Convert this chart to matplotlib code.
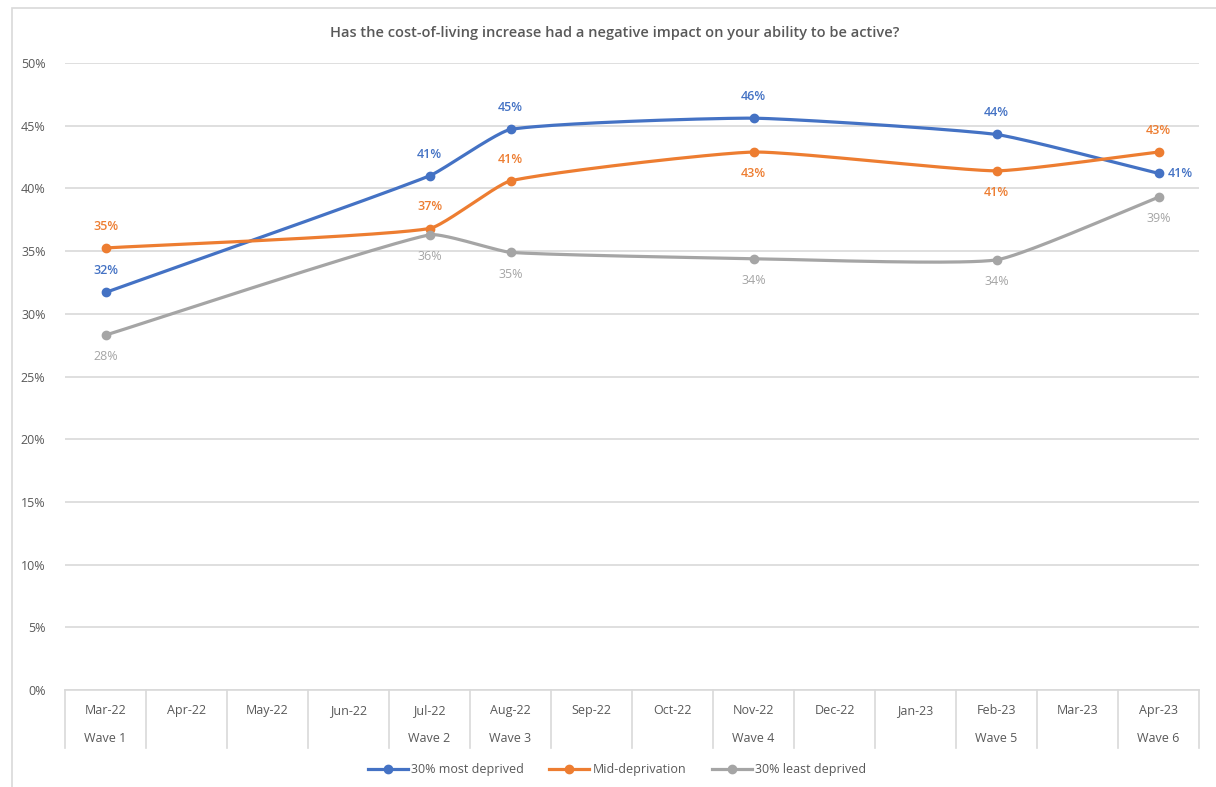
import numpy as np
import matplotlib.pyplot as plt
from matplotlib.lines import Line2D
from matplotlib.patches import Rectangle
import matplotlib.transforms as mtransforms

plt.rcParams['font.family'] = ['Open Sans', 'DejaVu Sans']

months = ['Mar-22', 'Apr-22', 'May-22', 'Jun-22', 'Jul-22', 'Aug-22', 'Sep-22',
          'Oct-22', 'Nov-22', 'Dec-22', 'Jan-23', 'Feb-23', 'Mar-23', 'Apr-23']
waves = ['Wave 1', '', '', '', 'Wave 2', 'Wave 3', '', '', 'Wave 4', '', '', 'Wave 5', '', 'Wave 6']

# survey results (% answering yes); None where no wave ran that month
most_deprived = [31.7, None, None, None, 41.0, 44.7, None, None, 45.6, None, None, 44.3, None, 41.2]
mid_deprivation = [35.25, None, None, None, 36.8, 40.6, None, None, 42.9, None, None, 41.4, None, 42.9]
least_deprived = [28.3, None, None, None, 36.3, 34.9, None, None, 34.4, None, None, 34.3, None, 39.3]

series_names = ['30% most deprived', 'Mid-deprivation', '30% least deprived']
colors = ['#4472C4', '#ED7D31', '#A5A5A5']
label_colors = ['#4472C4', '#ED7D31', '#A5A5A5']
label_pos = [
    ['above', 'above', 'above', 'above', 'above', 'right'],
    ['above', 'above', 'above', 'below', 'below', 'above'],
    ['below', 'below', 'below', 'below', 'below', 'below'],
]

TEXT = '#595959'
GRID = '#D9D9D9'
YSCALE = 12.54 / 81.0  # y units -> x units in screen space


def smooth(xs, ys, k=0.15, n=40):
    pts = np.column_stack([xs, np.asarray(ys) * YSCALE])
    m = len(pts)
    out = []
    for i in range(m - 1):
        p0, p1 = pts[max(i - 1, 0)], pts[i]
        p2, p3 = pts[i + 1], pts[min(i + 2, m - 1)]
        d = np.linalg.norm(p2 - p1)
        t1 = (p2 - p0) / np.linalg.norm(p2 - p0)
        t2 = (p3 - p1) / np.linalg.norm(p3 - p1)
        c1 = p1 + t1 * d * k
        c2 = p2 - t2 * d * k
        t = np.linspace(0, 1, n)[:, None]
        seg = (1 - t) ** 3 * p1 + 3 * (1 - t) ** 2 * t * c1 + 3 * (1 - t) * t ** 2 * c2 + t ** 3 * p2
        out.append(seg if i == 0 else seg[1:])
    curve = np.vstack(out)
    return curve[:, 0], curve[:, 1] / YSCALE


fig = plt.figure(figsize=(12.16, 7.87), dpi=100)
fig.patches.append(Rectangle((12 / 1216, -0.1), 1.2, 1 - 8 / 787 + 0.1, transform=fig.transFigure,
                             fill=False, edgecolor=GRID, linewidth=1.2))
ax = fig.add_axes([65 / 1216, 1 - 690 / 787, (1199 - 65) / 1216, (690 - 63) / 787])

ax.set_xlim(-0.5, len(months) - 0.5)
ax.set_ylim(0, 50)
ax.set_yticks(np.arange(0, 51, 5))
ax.set_yticklabels([f'{v}%' for v in range(0, 51, 5)], color=TEXT, fontsize=9)
ax.tick_params(axis='y', length=0, pad=14)
ax.tick_params(axis='x', length=0, labelbottom=False)
ax.grid(axis='y', color=GRID, linewidth=1.2)
ax.set_axisbelow(True)
for s in ['top', 'right', 'left']:
    ax.spines[s].set_visible(False)
ax.spines['bottom'].set_color(GRID)
ax.spines['bottom'].set_linewidth(1.2)

# two-level category axis
trans = mtransforms.blended_transform_factory(ax.transData, ax.transAxes)
for b in np.arange(-0.5, len(months), 1.0):
    ax.plot([b, b], [0, -0.093], transform=trans, color=GRID, lw=1.2, clip_on=False)
for i, (m, w) in enumerate(zip(months, waves)):
    ax.text(i, -0.033, m, transform=trans, ha='center', va='center', fontsize=9, color=TEXT)
    if w:
        ax.text(i, -0.078, w, transform=trans, ha='center', va='center', fontsize=9, color=TEXT)

for vals, name, col, lcol, pos in zip([most_deprived, mid_deprivation, least_deprived],
                                      series_names, colors, label_colors, label_pos):
    xs = [i for i, v in enumerate(vals) if v is not None]
    ys = [v for v in vals if v is not None]
    sx, sy = smooth(xs, ys)
    ax.plot(sx, sy, color=col, lw=2.3, solid_capstyle='round', zorder=3)
    ax.plot(xs, ys, 'o', color=col, ms=6, zorder=4)
    for x, y, p in zip(xs, ys, pos):
        if p == 'above':
            off, ha, va = (0, 11), 'center', 'bottom'
        elif p == 'below':
            off, ha, va = (0, -11), 'center', 'top'
        else:
            off, ha, va = (7, 0), 'left', 'center'
        ax.annotate(f'{y:.0f}%', (x, y), xytext=off, textcoords='offset points',
                    ha=ha, va=va, fontsize=9, color=lcol, zorder=5,
                    fontweight='semibold' if col != '#A5A5A5' else 'normal')

handles = [Line2D([], [], color=c, lw=2.3, marker='o', ms=6) for c in colors]
fig.legend(handles, series_names, loc='center', bbox_to_anchor=(617 / 1216, 1 - 770 / 787),
           ncol=3, frameon=False, fontsize=9, labelcolor=TEXT, handlelength=3.2,
           handletextpad=0.3, columnspacing=2.0)

fig.text(615 / 1216, 1 - 33 / 787,
         'Has the cost-of-living increase had a negative impact on your ability to be active?',
         ha='center', va='center', fontsize=10.5, color=TEXT, fontweight='semibold')

fig.savefig('out.png', dpi=100)
